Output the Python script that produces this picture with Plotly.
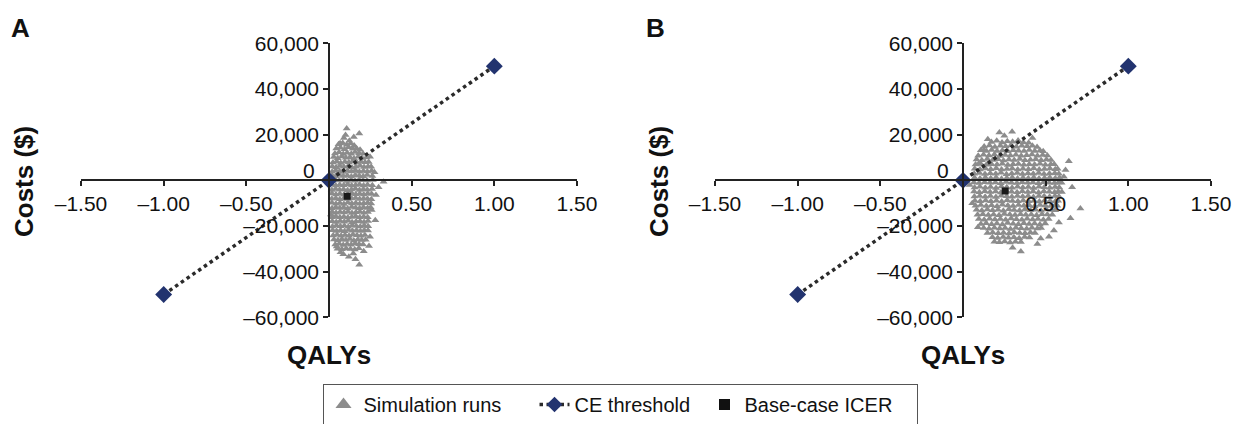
import plotly.graph_objects as go

# ---------------- data ----------------
x_tick_vals = [-1.5, -1.0, -0.5, 0.5, 1.0, 1.5]
x_tick_text = ["\u20131.50", "\u20131.00", "\u20130.50", "0.50", "1.00", "1.50"]
y_tick_vals = [60000, 40000, 20000, 0, -20000, -40000, -60000]
y_tick_text = ["60,000", "40,000", "20,000", "", "\u201320,000", "\u201340,000", "\u201360,000"]

ce_qaly = [-1.0, 0.0, 1.0]
ce_cost = [-50000, 0, 50000]

A_icer_qaly = [0.11]
A_icer_cost = [-7000]
B_icer_qaly = [0.255]
B_icer_cost = [-4700]

A_sim_qaly = [
    0.058, 0.083, 0.107, 0.131, 0.152,
    0.044, 0.069, 0.094, 0.118, 0.143, 0.166, 0.188,
    0.036, 0.061, 0.086, 0.110, 0.135, 0.158, 0.182, 0.206,
    0.029, 0.053, 0.078, 0.102, 0.127, 0.151, 0.176, 0.200, 0.226,
    0.024, 0.047, 0.071, 0.096, 0.120, 0.145, 0.169, 0.193, 0.218, 0.240,
    0.020, 0.043, 0.066, 0.090, 0.115, 0.139, 0.163, 0.188, 0.212, 0.236, 0.255,
    0.019, 0.041, 0.064, 0.088, 0.112, 0.136, 0.160, 0.184, 0.208, 0.232, 0.258,
    0.018, 0.040, 0.063, 0.087, 0.111, 0.135, 0.159, 0.183, 0.207, 0.231, 0.262,
    0.017, 0.039, 0.062, 0.086, 0.110, 0.134, 0.158, 0.182, 0.206, 0.230, 0.265,
    0.018, 0.041, 0.065, 0.089, 0.113, 0.137, 0.161, 0.185, 0.209, 0.233, 0.262,
    0.017, 0.040, 0.064, 0.088, 0.112, 0.136, 0.160, 0.184, 0.208, 0.232, 0.260,
    0.018, 0.042, 0.066, 0.090, 0.114, 0.138, 0.162, 0.186, 0.210, 0.234, 0.258,
    0.017, 0.041, 0.065, 0.089, 0.113, 0.137, 0.161, 0.185, 0.209, 0.233, 0.256,
    0.018, 0.042, 0.066, 0.090, 0.114, 0.138, 0.162, 0.186, 0.210, 0.234, 0.255,
    0.018, 0.041, 0.065, 0.089, 0.113, 0.137, 0.161, 0.185, 0.209, 0.233, 0.252,
    0.019, 0.043, 0.067, 0.091, 0.115, 0.139, 0.163, 0.187, 0.211, 0.235,
    0.019, 0.042, 0.066, 0.090, 0.114, 0.138, 0.162, 0.186, 0.210, 0.234,
    0.020, 0.044, 0.068, 0.092, 0.116, 0.140, 0.164, 0.188, 0.212, 0.236,
    0.021, 0.045, 0.069, 0.093, 0.117, 0.141, 0.165, 0.189, 0.213, 0.237,
    0.022, 0.046, 0.070, 0.094, 0.118, 0.142, 0.166, 0.190, 0.214, 0.236,
    0.025, 0.049, 0.073, 0.097, 0.121, 0.145, 0.169, 0.193, 0.217,
    0.030, 0.054, 0.078, 0.102, 0.126, 0.150, 0.174, 0.198, 0.222,
    0.038, 0.062, 0.086, 0.110, 0.134, 0.158, 0.182, 0.206,
    0.052, 0.078, 0.104, 0.130, 0.156, 0.180,
    0.107, 0.183, 0.067, 0.123, 0.090, 0.150, 0.248, 0.330, 0.284, 0.300, 0.275, 0.258, 0.248,
    0.242, 0.183, 0.147, 0.087, 0.047, 0.120, 0.070, 0.210, 0.160, 0.100, 0.280, 0.013, 0.012,
]
A_sim_cost = [
    15800, 16400, 15600, 16100, 15300,
    13900, 14300, 13600, 14500, 13800, 14100, 13400,
    11800, 12300, 11500, 12100, 11700, 12400, 11900, 11600,
    10200, 9700, 10400, 9900, 10100, 9600, 10300, 9800, 10000,
    7800, 8300, 7600, 8100, 7900, 8400, 7700, 8200, 7900, 8000,
    6100, 5700, 6300, 5900, 6200, 5600, 6000, 6400, 5800, 6100, 5900,
    3800, 4300, 4000, 3700, 4200, 3900, 4400, 3800, 4100, 3900, 4200,
    2200, 1800, 2300, 1900, 2100, 1700, 2200, 2000, 1800, 2300, 1900,
    -200, 300, -100, 200, -300, 100, -200, 300, 0, -100, 200,
    -1800, -2300, -1900, -2100, -1700, -2200, -2000, -1800, -2300, -1900, -2100,
    -4200, -3800, -4100, -3900, -4300, -4000, -3700, -4200, -3900, -4100, -3800,
    -5800, -6200, -5900, -6300, -6000, -5700, -6100, -5900, -6200, -5800, -6000,
    -8100, -7800, -8300, -7900, -8200, -8000, -7700, -8200, -7900, -8100, -8300,
    -9800, -10200, -9900, -10300, -9700, -10100, -9900, -10200, -10000, -9800, -10100,
    -12200, -11800, -12100, -11900, -12300, -11700, -12000, -12200, -11800, -12100, -11900,
    -13800, -14200, -13900, -14100, -13700, -14300, -14000, -13800, -14200, -13900,
    -16100, -15800, -16200, -15900, -16300, -16000, -15700, -16200, -15900, -16100,
    -17900, -18200, -17800, -18100, -17700, -18300, -18000, -17900, -18200, -17800,
    -20200, -19800, -20100, -19900, -20300, -19700, -20000, -20200, -19800, -20100,
    -21800, -22200, -21900, -22300, -21700, -22100, -21900, -22200, -21800, -22000,
    -24100, -23800, -24200, -23900, -24300, -23700, -24000, -24200, -23900,
    -25900, -26200, -25800, -26100, -25700, -26300, -25900, -26100, -26000,
    -28100, -27800, -28300, -27900, -28200, -27700, -28000, -28100,
    -29900, -30200, -29800, -30100, -30300, -29700,
    22700, 20500, 16200, 17300, 18500, 19000, 10300, -600, -6400, -3000, 3500, -13000, -24700,
    -28700, -37000, -32000, -32300, -29000, -33500, -31500, -31000, -34500, 19800, -17500, 2000, -15000,
]

B_sim_qaly = [
    0.172, 0.204, 0.236, 0.268, 0.300, 0.333, 0.365, 0.397,
    0.128, 0.160, 0.193, 0.226, 0.258, 0.291, 0.323, 0.356, 0.388, 0.420, 0.448,
    0.108, 0.141, 0.173, 0.206, 0.238, 0.271, 0.304, 0.336, 0.369, 0.401, 0.434, 0.466, 0.485,
    0.092, 0.124, 0.157, 0.190, 0.222, 0.255, 0.287, 0.320, 0.352, 0.385, 0.417, 0.450, 0.482, 0.510,
    0.082, 0.114, 0.147, 0.180, 0.212, 0.245, 0.278, 0.310, 0.343, 0.375, 0.408, 0.440, 0.473, 0.505, 0.532,
    0.076, 0.108, 0.141, 0.173, 0.206, 0.238, 0.271, 0.303, 0.336, 0.368, 0.401, 0.433, 0.466, 0.498, 0.531, 0.552,
    0.071, 0.103, 0.136, 0.168, 0.201, 0.233, 0.266, 0.298, 0.331, 0.363, 0.396, 0.428, 0.461, 0.493, 0.526, 0.558, 0.572,
    0.068, 0.100, 0.133, 0.165, 0.198, 0.230, 0.263, 0.295, 0.328, 0.360, 0.393, 0.425, 0.458, 0.490, 0.523, 0.555, 0.580,
    0.070, 0.103, 0.135, 0.168, 0.200, 0.233, 0.265, 0.298, 0.330, 0.363, 0.395, 0.428, 0.460, 0.493, 0.525, 0.558, 0.584,
    0.066, 0.098, 0.131, 0.163, 0.196, 0.228, 0.261, 0.293, 0.326, 0.358, 0.391, 0.423, 0.456, 0.488, 0.521, 0.553, 0.578, 0.596,
    0.070, 0.102, 0.135, 0.167, 0.200, 0.232, 0.265, 0.297, 0.330, 0.362, 0.395, 0.427, 0.460, 0.492, 0.525, 0.557, 0.582,
    0.067, 0.099, 0.132, 0.164, 0.197, 0.229, 0.262, 0.294, 0.327, 0.359, 0.392, 0.424, 0.457, 0.489, 0.522, 0.554, 0.576, 0.598,
    0.069, 0.101, 0.134, 0.166, 0.199, 0.231, 0.264, 0.296, 0.329, 0.361, 0.394, 0.426, 0.459, 0.491, 0.524, 0.556, 0.580,
    0.072, 0.104, 0.137, 0.169, 0.202, 0.234, 0.267, 0.299, 0.332, 0.364, 0.397, 0.429, 0.462, 0.494, 0.527, 0.559, 0.575,
    0.076, 0.108, 0.141, 0.173, 0.206, 0.238, 0.271, 0.303, 0.336, 0.368, 0.401, 0.433, 0.466, 0.498, 0.531, 0.557, 0.570,
    0.082, 0.114, 0.147, 0.179, 0.212, 0.244, 0.277, 0.309, 0.342, 0.374, 0.407, 0.439, 0.472, 0.504, 0.537, 0.558,
    0.088, 0.120, 0.153, 0.185, 0.218, 0.250, 0.283, 0.315, 0.348, 0.380, 0.413, 0.445, 0.478, 0.510, 0.540,
    0.096, 0.128, 0.161, 0.193, 0.226, 0.258, 0.291, 0.323, 0.356, 0.388, 0.421, 0.453, 0.486, 0.518,
    0.108, 0.140, 0.173, 0.205, 0.238, 0.270, 0.303, 0.335, 0.368, 0.400, 0.433, 0.465, 0.497,
    0.125, 0.157, 0.190, 0.222, 0.255, 0.287, 0.320, 0.352, 0.385, 0.417, 0.450, 0.472,
    0.148, 0.180, 0.213, 0.245, 0.278, 0.310, 0.343, 0.375, 0.408, 0.435,
    0.178, 0.210, 0.243, 0.275, 0.308, 0.340, 0.373, 0.402,
    0.220, 0.252, 0.285, 0.317, 0.350,
    0.220, 0.297, 0.126, 0.640, 0.710, 0.650, 0.610, 0.350, 0.450, 0.190, 0.520, 0.056,
    0.096, 0.250, 0.420, 0.620, 0.660, 0.040, 0.550, 0.300, 0.150, 0.470, 0.580, 0.090,
]
B_sim_cost = [
    16800, 17300, 16600, 17100, 16900, 17400, 16700, 16500,
    14800, 15300, 14600, 15100, 14900, 15400, 14700, 15200, 14900, 15100, 14600,
    13200, 12800, 13300, 12900, 13100, 12700, 13200, 13000, 12800, 13300, 12900, 13100, 12700,
    10800, 11200, 10900, 11300, 10700, 11100, 10900, 11200, 10800, 11000, 11300, 10800, 11100, 10900,
    9100, 8800, 9300, 8900, 9200, 8700, 9100, 8900, 9300, 8800, 9000, 9200, 8800, 9100, 8900,
    6900, 7200, 6800, 7100, 6900, 7300, 6700, 7000, 7200, 6800, 7100, 6900, 7300, 6800, 7000, 7100,
    5100, 4800, 5200, 4900, 5300, 4700, 5000, 5200, 4800, 5100, 4900, 5300, 4800, 5000, 5200, 4900, 5100,
    2900, 3200, 2800, 3100, 2900, 3300, 2700, 3000, 3200, 2800, 3100, 2900, 3200, 2800, 3000, 3100, 2900,
    1100, 800, 1200, 900, 1300, 700, 1000, 1200, 800, 1100, 900, 1300, 800, 1000, 1200, 900, 1100,
    -900, -1200, -800, -1100, -900, -1300, -700, -1000, -1200, -800, -1100, -900, -1300, -800, -1000, -1200, -900, -1100,
    -3100, -2800, -3200, -2900, -3300, -2700, -3000, -3200, -2800, -3100, -2900, -3300, -2800, -3000, -3200, -2900, -3100,
    -4900, -5200, -4800, -5100, -4900, -5300, -4700, -5000, -5200, -4800, -5100, -4900, -5300, -4800, -5000, -5200, -4900, -5100,
    -7100, -6800, -7200, -6900, -7300, -6700, -7000, -7200, -6800, -7100, -6900, -7300, -6800, -7000, -7200, -6900, -7100,
    -8900, -9200, -8800, -9100, -8900, -9300, -8700, -9000, -9200, -8800, -9100, -8900, -9300, -8800, -9000, -9200, -8900,
    -11100, -10800, -11200, -10900, -11300, -10700, -11000, -11200, -10800, -11100, -10900, -11300, -10800, -11000, -11200, -10900, -11100,
    -12900, -13200, -12800, -13100, -12900, -13300, -12700, -13000, -13200, -12800, -13100, -12900, -13300, -12800, -13000, -13100,
    -15100, -14800, -15200, -14900, -15300, -14700, -15000, -15200, -14800, -15100, -14900, -15300, -14800, -15000, -15100,
    -16900, -17200, -16800, -17100, -16900, -17300, -16700, -17000, -17200, -16800, -17100, -16900, -17300, -16900,
    -19100, -18800, -19200, -18900, -19300, -18700, -19000, -19200, -18800, -19100, -18900, -19300, -18900,
    -20900, -21200, -20800, -21100, -20900, -21300, -20700, -21000, -21200, -20800, -21100, -20900,
    -23100, -22800, -23200, -22900, -23300, -22700, -23000, -23200, -22800, -23100,
    -24900, -25200, -24800, -25100, -24900, -25300, -24800, -25000,
    -27100, -26800, -27200, -26900, -27000,
    21000, 21300, 13300, 8400, -12300, -16600, 1600, -31200, -27900, -26900, -24700, -10000,
    7400, 19500, 18500, 4500, -3000, -2000, -22000, -29500, 18000, -25500, -18500, -20500,
]

legend_names = ["Simulation runs", "CE threshold", "Base-case ICER"]

assert len(A_sim_qaly) == len(A_sim_cost)
assert len(B_sim_qaly) == len(B_sim_cost)

# ---------------- style ----------------
W, H = 1240, 424
FONT = "Liberation Sans, Arial, Helvetica, sans-serif"
SIM_COLOR = "#8c8c8c"
LINE_COLOR = "#2a2a2a"
DIAMOND_COLOR = "#22336f"
AX_COLOR = "#222222"
TXT = "#111111"

# panel pixel geometry
A_x0, A_x1 = 81, 577
B_x0, B_x1 = 715, 1211
Y_top, Y_bot = 43.3, 317.4


def px_x(p):
    return p / W


def px_y(p):
    return 1 - p / H


fig = go.Figure()

panels = [
    ("x", "y", A_sim_qaly, A_sim_cost, A_icer_qaly, A_icer_cost),
    ("x2", "y2", B_sim_qaly, B_sim_cost, B_icer_qaly, B_icer_cost),
]
for xa, ya, sq, sc, iq, ic in panels:
    fig.add_trace(go.Scatter(
        x=sq, y=sc, mode="markers", name=legend_names[0], xaxis=xa, yaxis=ya,
        marker=dict(symbol="triangle-up", size=7, color=SIM_COLOR, line=dict(width=0)),
        showlegend=False,
    ))
    fig.add_trace(go.Scatter(
        x=ce_qaly, y=ce_cost, mode="lines+markers", name=legend_names[1], xaxis=xa, yaxis=ya,
        line=dict(color=LINE_COLOR, width=3.5, dash="dot"),
        marker=dict(symbol="diamond", size=13, color=DIAMOND_COLOR, line=dict(width=0)),
        showlegend=False,
    ))
    fig.add_trace(go.Scatter(
        x=iq, y=ic, mode="markers", name=legend_names[2], xaxis=xa, yaxis=ya,
        marker=dict(symbol="square", size=7, color="#1a1a1a", line=dict(width=0)),
        showlegend=False,
    ))

# legend entries (larger symbols, as in the original key)
legend_widths = [166, 125, 167]
fig.add_trace(go.Scatter(
    x=[None], y=[None], mode="markers", name=legend_names[0],
    marker=dict(symbol="triangle-up", size=14, color=SIM_COLOR, line=dict(width=0)),
    legendrank=1, legendwidth=legend_widths[0],
))
fig.add_trace(go.Scatter(
    x=[None], y=[None], mode="lines+markers", name=legend_names[1],
    line=dict(color=LINE_COLOR, width=3.5, dash="dot"),
    marker=dict(symbol="diamond", size=12, color=DIAMOND_COLOR, line=dict(width=0)),
    legendrank=2, legendwidth=legend_widths[1],
))
fig.add_trace(go.Scatter(
    x=[None], y=[None], mode="markers", name=legend_names[2],
    marker=dict(symbol="square", size=11, color="#111111", line=dict(width=0)),
    legendrank=3, legendwidth=legend_widths[2],
))

xaxis_common = dict(
    range=[-1.5, 1.5], tickvals=x_tick_vals, ticktext=x_tick_text,
    ticks="outside", ticklen=5, tickwidth=1.5, tickcolor=AX_COLOR,
    showline=True, linecolor=AX_COLOR, linewidth=1.5,
    showgrid=False, zeroline=False, anchor="free", position=px_y((Y_top + Y_bot) / 2),
    tickfont=dict(family=FONT, size=21, color=TXT), fixedrange=True,
    layer="above traces",
)
yaxis_common = dict(
    range=[-60000, 60000], tickvals=y_tick_vals, ticktext=y_tick_text,
    ticks="outside", ticklen=5, tickwidth=1.5, tickcolor=AX_COLOR,
    showline=True, linecolor=AX_COLOR, linewidth=1.5,
    showgrid=False, zeroline=False, anchor="free",
    domain=[px_y(Y_bot), px_y(Y_top)],
    tickfont=dict(family=FONT, size=21, color=TXT), fixedrange=True,
)

fig.update_layout(
    width=W, height=H, autosize=False,
    margin=dict(l=0, r=0, t=0, b=0, autoexpand=False),
    paper_bgcolor="white", plot_bgcolor="rgba(0,0,0,0)",
    font=dict(family=FONT, color=TXT),
    xaxis=dict(domain=[px_x(A_x0), px_x(A_x1)], **xaxis_common),
    yaxis=dict(position=px_x((A_x0 + A_x1) / 2), **yaxis_common),
    xaxis2=dict(domain=[px_x(B_x0), px_x(B_x1)], **xaxis_common),
    yaxis2=dict(position=px_x((B_x0 + B_x1) / 2), **yaxis_common),
    legend=dict(
        orientation="h", x=0.5, xanchor="center", y=px_y(384), yanchor="top",
        bordercolor="#555", borderwidth=1, bgcolor="white",
        font=dict(family=FONT, size=20, color=TXT),
        itemwidth=30, itemsizing="trace", tracegroupgap=0,
    ),
)

annotations = []
for label, lx, cx in [("A", 20, (A_x0 + A_x1) / 2), ("B", 655, (B_x0 + B_x1) / 2)]:
    annotations.append(dict(text="<b>%s</b>" % label, x=px_x(lx), y=px_y(28), xref="paper", yref="paper",
                            showarrow=False, xanchor="center", yanchor="middle",
                            font=dict(family=FONT, size=26, color=TXT)))
    annotations.append(dict(text="<b>QALYs</b>", x=px_x(cx), y=px_y(355), xref="paper", yref="paper",
                            showarrow=False, xanchor="center", yanchor="middle",
                            font=dict(family=FONT, size=26, color=TXT)))
    annotations.append(dict(text="0", x=px_x(cx - 12), y=px_y(170), xref="paper", yref="paper",
                            showarrow=False, xanchor="right", yanchor="middle",
                            font=dict(family=FONT, size=21, color=TXT)))
for cx in [24, 659]:
    annotations.append(dict(text="<b>Costs ($)</b>", x=px_x(cx), y=px_y(182), xref="paper", yref="paper",
                            showarrow=False, textangle=-90, xanchor="center", yanchor="middle",
                            font=dict(family=FONT, size=26, color=TXT)))
fig.update_layout(annotations=annotations)

fig.write_html("out.html", config={"displayModeBar": False},
               post_script="document.body.style.margin='0px';")
